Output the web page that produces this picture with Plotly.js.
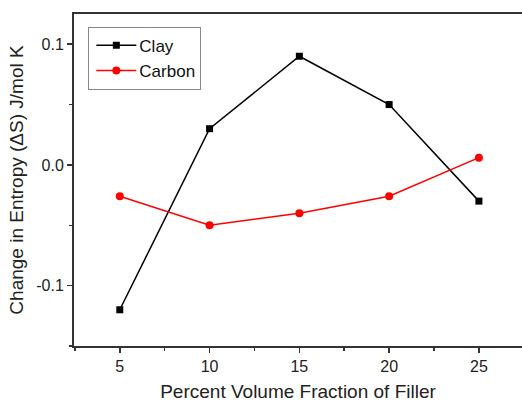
<!DOCTYPE html>
<html>
<head>
<meta charset="utf-8">
<script src="https://cdn.plot.ly/plotly-3.0.1.min.js"></script>
<style>html,body{margin:0;padding:0;background:#fff;}#chart{width:522px;height:403px;}</style>
</head>
<body>
<div id="chart"></div>
<script>
const fillerPercent = [5, 10, 15, 20, 25];
const clayEntropy = [-0.12, 0.03, 0.09, 0.05, -0.03];
const carbonEntropy = [-0.026, -0.05, -0.04, -0.026, 0.006];
const xTickVals = [5, 10, 15, 20, 25];
const yTickVals = [-0.1, 0.0, 0.1];
const yTickText = ['-0.1', '0.0', '0.1'];

const font = 'Liberation Sans, Arial, sans-serif';
const traces = [
  {x: fillerPercent, y: clayEntropy, name: 'Clay', mode: 'lines+markers',
   line: {color: '#000000', width: 1.5}, marker: {symbol: 'square', size: 7, color: '#000000'}},
  {x: fillerPercent, y: carbonEntropy, name: 'Carbon', mode: 'lines+markers',
   line: {color: '#ff0000', width: 1.5}, marker: {symbol: 'circle', size: 8, color: '#ff0000'}}
];
const layout = {
  width: 522, height: 403,
  margin: {l: 74, r: 0, t: 13.5, b: 57},
  paper_bgcolor: '#fff', plot_bgcolor: '#fff',
  showlegend: true,
  font: {family: font, size: 16, color: '#222'},
  xaxis: {
    range: [2.45, 27.4], tickvals: xTickVals, ticks: 'outside', ticklen: 5, tickwidth: 1.5, tickcolor: '#333',
    showline: true, linecolor: '#333', linewidth: 2, mirror: true, showgrid: false, zeroline: false,
    tickfont: {family: font, size: 16, color: '#222'},
    minor: {dtick: 2.5, tick0: 0, ticks: 'outside', ticklen: 3, tickwidth: 1.5, tickcolor: '#333', showgrid: false},
    title: {text: 'Percent Volume Fraction of Filler', font: {family: font, size: 19, color: '#222'}, standoff: 10}
  },
  yaxis: {
    range: [-0.15, 0.125], tickvals: yTickVals, ticktext: yTickText, ticks: 'outside', ticklen: 5, tickwidth: 1.5, tickcolor: '#333',
    showline: true, linecolor: '#333', linewidth: 2, mirror: false, showgrid: false, zeroline: false,
    tickfont: {family: font, size: 16, color: '#222'},
    minor: {dtick: 0.05, tick0: 0, ticks: 'outside', ticklen: 3, tickwidth: 1.5, tickcolor: '#333', showgrid: false},
    title: {text: 'Change in Entropy (ΔS) J/mol K', font: {family: font, size: 19, color: '#222'}, standoff: 8}
  },
  legend: {
    x: 0.032, y: 0.9615, xanchor: 'left', yanchor: 'top',
    bgcolor: '#fff', bordercolor: '#888', borderwidth: 1,
    font: {family: font, size: 17, color: '#111'},
    tracegroupgap: 0, itemwidth: 40
  }
};
function stretchLegendSamples(gd) {
  // lengthen the legend sample lines to 40 px as in the reference and centre the markers on them
  gd.querySelectorAll('g.legendlines path').forEach(function (p) { p.setAttribute('d', 'M7,0h40'); });
  gd.querySelectorAll('g.legendsymbols path').forEach(function (p) {
    p.setAttribute('transform', 'translate(27,0)');
  });
}
const gdEl = document.getElementById('chart');
Plotly.newPlot(gdEl, traces, layout, {displayModeBar: false, staticPlot: true}).then(function (gd) {
  stretchLegendSamples(gd);
  gd.on('plotly_afterplot', function () { stretchLegendSamples(gd); });
  setTimeout(function () { stretchLegendSamples(gd); }, 50);
  setTimeout(function () { stretchLegendSamples(gd); }, 300);
});
</script>
</body>
</html>
